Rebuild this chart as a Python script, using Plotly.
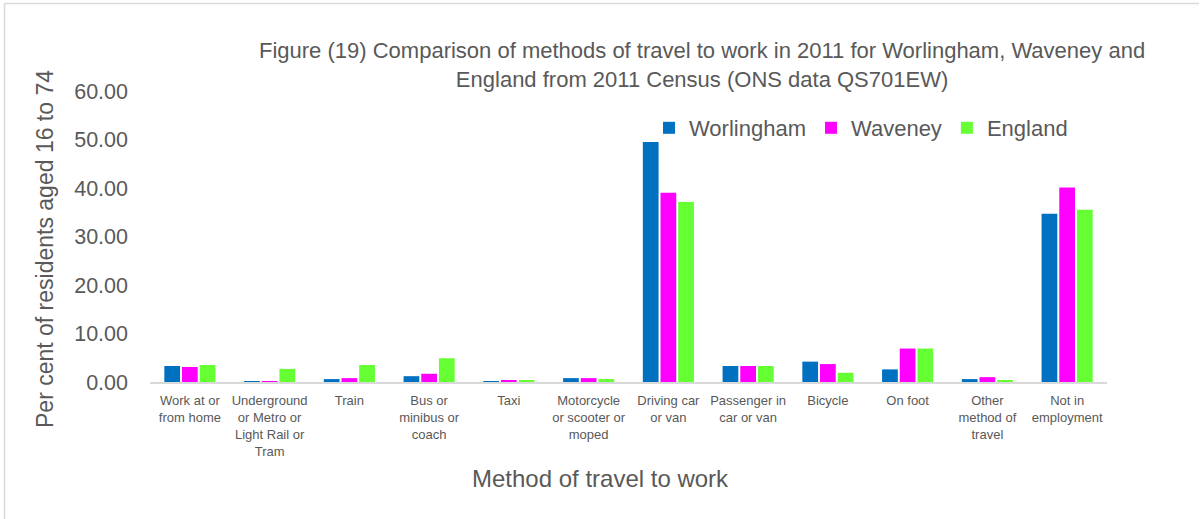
import plotly.graph_objects as go

categories = [
    "Work at or<br>from home",
    "Underground<br>or Metro or<br>Light Rail or<br>Tram",
    "Train",
    "Bus or<br>minibus or<br>coach",
    "Taxi",
    "Motorcycle<br>or scooter or<br>moped",
    "Driving car<br>or van",
    "Passenger in<br>car or van",
    "Bicycle",
    "On foot",
    "Other<br>method of<br>travel",
    "Not in<br>employment",
]
worlingham = [3.3, 0.05, 0.6, 1.2, 0.2, 0.8, 49.5, 3.3, 4.2, 2.6, 0.6, 34.7]
waveney = [3.1, 0.2, 0.8, 1.7, 0.4, 0.8, 39.0, 3.3, 3.7, 6.9, 1.0, 40.1]
england = [3.5, 2.7, 3.5, 4.9, 0.4, 0.6, 37.1, 3.3, 1.9, 6.9, 0.4, 35.5]
series_names = ["Worlingham", "Waveney", "England"]
series_colors = ["#0070C0", "#FF00FF", "#66FF33"]
y_ticks = [0, 10, 20, 30, 40, 50, 60]

FONT = "Liberation Sans"
GREY = "#595959"

# plot area in pixels
L, R, T, B = 150, 96, 91, 137
W, H = 1203, 519
pw, ph = W - L - R, H - T - B


def px_x(x):
    return (x - L) / pw


def px_y(y):
    return (H - B - y) / ph


fig = go.Figure()
for name, vals, col in zip(series_names, [worlingham, waveney, england], series_colors):
    fig.add_trace(go.Bar(
        x=categories, y=vals, name=name,
        marker=dict(color=col, line=dict(width=0)),
    ))

fig.update_layout(
    width=W, height=H,
    margin=dict(l=L, r=R, t=T, b=B),
    paper_bgcolor="white", plot_bgcolor="white",
    barmode="group", bargap=0.335, bargroupgap=0.11,
    font=dict(family=FONT, color=GREY),
    showlegend=True,
    legend=dict(
        orientation="h", x=px_x(649), y=px_y(107), xanchor="left", yanchor="top",
        font=dict(size=22, color=GREY), bgcolor="rgba(0,0,0,0)",
        itemwidth=30, tracegroupgap=0,
    ),
    xaxis=dict(
        showgrid=False, showline=True, linecolor="#D9D9D9", linewidth=1.5,
        ticks="", tickfont=dict(size=13, color=GREY), tickangle=0,
        ticklabelstandoff=6,
    ),
    yaxis=dict(
        range=[0, 60], tickvals=y_ticks, tickformat=".2f",
        showgrid=False, showline=False, zeroline=False, ticks="",
        tickfont=dict(size=21.5, color=GREY), ticklabelstandoff=21,
    ),
    annotations=[
        dict(text="Figure (19) Comparison of methods of travel to work in 2011 for Worlingham, Waveney and"
                  "<br>England from 2011 Census (ONS data QS701EW)",
             xref="paper", yref="paper", x=px_x(702), y=px_y(65),
             xanchor="center", yanchor="middle", showarrow=False,
             font=dict(size=22, color=GREY, family=FONT)),
        dict(text="Per cent of residents aged 16 to 74", textangle=-90,
             xref="paper", yref="paper", x=px_x(45), y=px_y(249),
             xanchor="center", yanchor="middle", showarrow=False,
             font=dict(size=23, color=GREY, family=FONT)),
        dict(text="Method of travel to work",
             xref="paper", yref="paper", x=px_x(600), y=px_y(478),
             xanchor="center", yanchor="middle", showarrow=False,
             font=dict(size=24, color=GREY, family=FONT)),
    ],
    shapes=[
        dict(type="line", xref="paper", yref="paper",
             x0=px_x(4.5), y0=px_y(520), x1=px_x(4.5), y1=px_y(3.5),
             line=dict(color="#D9D9D9", width=1.5)),
        dict(type="line", xref="paper", yref="paper",
             x0=px_x(4.5), y0=px_y(3.5), x1=px_x(1199), y1=px_y(3.5),
             line=dict(color="#D9D9D9", width=1.5)),
    ],
)

fig.write_html("out.html")
